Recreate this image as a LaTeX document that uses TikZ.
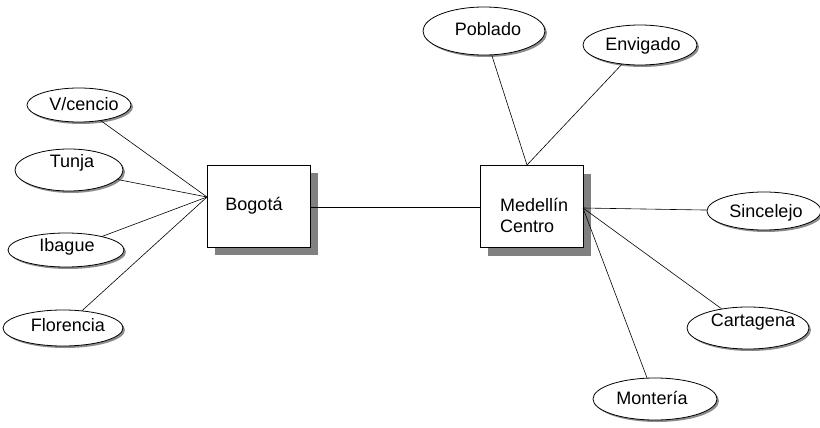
\documentclass[tikz,border=0pt]{standalone}
\usepackage{fontspec}
\setmainfont{Liberation Sans}
\usetikzlibrary{shapes.geometric,shadows}
\begin{document}
\begin{tikzpicture}[x=1pt,y=-1pt,
  every node/.style={font=\fontsize{18}{21}\selectfont},
  city/.style={ellipse,draw=black,line width=0.8pt,fill=white,inner sep=0pt,
    drop shadow={shadow xshift=2pt,shadow yshift=-2pt,fill=black!45,opacity=1}},
  hub/.style={rectangle,draw=black,line width=0.8pt,fill=white,inner sep=0pt,
    minimum width=103pt,minimum height=82pt,
    drop shadow={shadow xshift=8pt,shadow yshift=-8pt,fill=black!50,opacity=1}},
  lbl/.style={inner sep=0pt},
  link/.style={line width=0.6pt,black}]
\useasboundingbox (0,0) rectangle (820,428);
% hubs
\node[hub] (bog) at (258.5,206) {};
\node[lbl] (bogT) at (254,206) {Bogotá};
\node[hub] (med) at (531.5,206.5) {};
\node[lbl,anchor=west,align=left] (medT) at (500,215) {Medellín\\Centro};
% left cities
\node[city,minimum width=104pt,minimum height=34pt] (vc) at (79,105) {};
\node[lbl] (vcT) at (84,104) {V/cencio};
\node[city,minimum width=108pt,minimum height=42pt] (tun) at (69,170) {};
\node[lbl] (tunT) at (72,163) {Tunja};
\node[city,minimum width=116pt,minimum height=34pt] (iba) at (66,250) {};
\node[lbl] (ibaT) at (67,247) {Ibague};
\node[city,minimum width=120pt,minimum height=36pt] (flo) at (63,328) {};
\node[lbl] (floT) at (68,325) {Florencia};
% right cities
\node[city,minimum width=122pt,minimum height=48pt] (pob) at (484,31) {};
\node[lbl] (pobT) at (488,29) {Poblado};
\node[city,minimum width=114pt,minimum height=40pt] (env) at (640,45) {};
\node[lbl] (envT) at (643,46) {Envigado};
\node[city,minimum width=114pt,minimum height=38pt] (sin) at (764,211) {};
\node[lbl] (sinT) at (766,213) {Sincelejo};
\node[city,minimum width=122pt,minimum height=42pt] (car) at (748,328) {};
\node[lbl] (carT) at (753,322) {Cartagena};
\node[city,minimum width=124pt,minimum height=42pt] (mon) at (655,399) {};
\node[lbl] (monT) at (652,398) {Montería};
% junction points
\coordinate (bogL) at (207,197);
\coordinate (medTop) at (527,165);
\coordinate (medR) at (583,208);
% connectors
\draw[link] (vc) -- (bogL);
\draw[link] (tun) -- (bogL);
\draw[link] (iba) -- (bogL);
\draw[link] (flo) -- (bogL);
\draw[link] (bog.east |- 0,207) -- (med.west |- 0,207);
\draw[link] (pob) -- (medTop);
\draw[link] (env) -- (medTop);
\draw[link] (medR) -- (sin);
\draw[link] (medR) -- (car);
\draw[link] (medR) -- (mon);
\end{tikzpicture}
\end{document}
